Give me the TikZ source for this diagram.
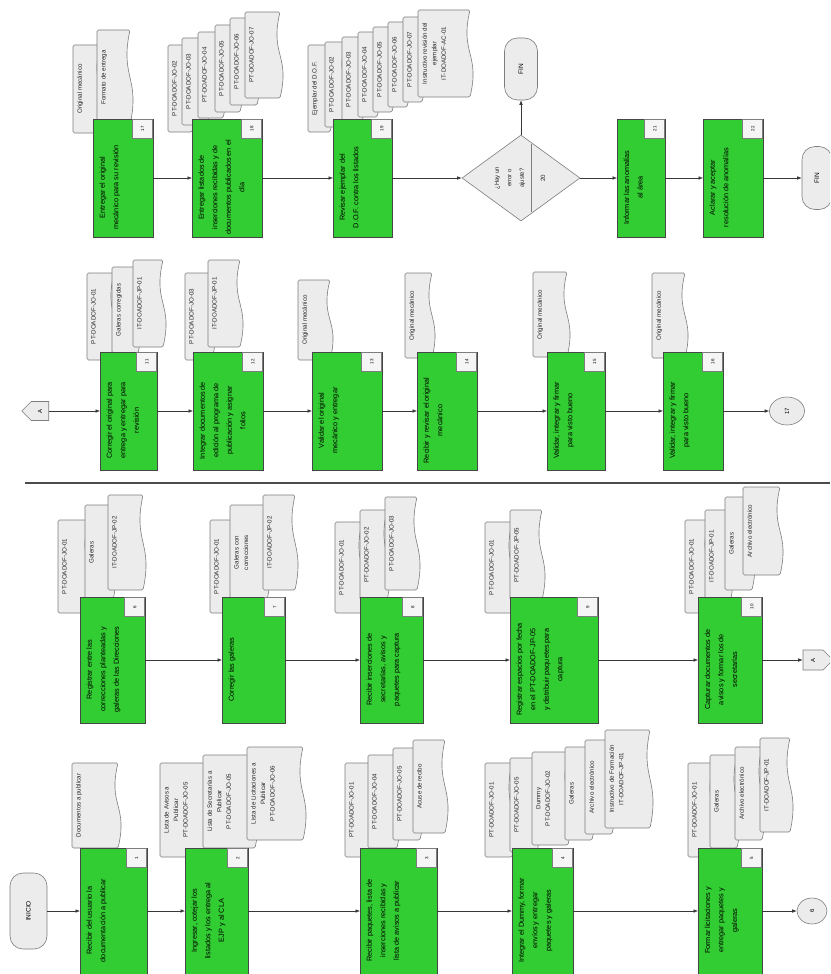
\documentclass[tikz,border=0pt]{standalone}
\usepackage{fontspec}
\setmainfont{Liberation Sans}
\usetikzlibrary{shapes.geometric,shapes.symbols,arrows.meta}
\definecolor{gfill}{RGB}{50,205,50}
\definecolor{gline}{RGB}{70,70,70}
\definecolor{dfill}{RGB}{236,236,236}
\definecolor{dline}{RGB}{125,125,125}
\definecolor{aline}{RGB}{55,55,55}
\tikzset{
  gbox/.style={draw=gline, fill=gfill, line width=0.8pt, inner sep=0pt, outer sep=0pt},
  tabbox/.style={draw=dline, fill=black!4, line width=0.6pt, minimum width=20, minimum height=19, inner sep=0pt, font=\fontsize{4.5}{5}\selectfont},
  gtext/.style={rotate=90, align=center, inner sep=1.5pt, font=\fontsize{7.3}{13.5}\selectfont, text=black},
  docpath/.style={draw=dline, fill=dfill, line width=0.6pt, rounded corners=1.5pt},
  doctext/.style={rotate=90, align=center, inner sep=1pt, font=\fontsize{6.2}{9.5}\selectfont, text=black!85},
  flow/.style={draw=aline, line width=0.6pt, -{Latex[length=4.5pt,width=3.6pt]}},
  term/.style={draw=dline, fill=dfill, line width=0.6pt, rounded corners=13pt, inner sep=0pt, font=\fontsize{6.5}{8}\selectfont},
  conn/.style={draw=dline, fill=dfill, line width=0.6pt, inner sep=0pt, font=\fontsize{6}{7}\selectfont},
}
\newcommand{\docu}[6]{%
  \path[docpath] (#2,#3) -- (#4,#3) .. controls ({#4-10},{(#3+#5)/2}) and ({#4+10},{(#3+#5)/2}) .. (#4,#5) -- (#2,#5) -- cycle;
  \node[doctext, anchor=north] (#1) at ({#2+3},{(#3+#5)/2}) {#6};
}
\newcommand{\stp}[7]{%
  \node[gbox, anchor=north west, minimum width={#4-#2}, minimum height={#5-#3}] (#1) at (#2,#3) {};
  \node[tabbox, anchor=north east] (#1n) at (#1.north east) {\rotatebox{90}{#6}};
  \node[gtext, anchor=north] (#1t) at ({#2+5},{(#3+#5+19)/2}) {#7};
}
\begin{document}
\begin{tikzpicture}[x=1pt, y=-1pt]
\useasboundingbox (0,0) rectangle (830,974);
\clip (0,0) rectangle (830,974);
\fill[white] (0,0) rectangle (830,974);

% ---------- documents row 4 ----------
\docu{d17a}{73}{45}{100}{133}{Original mecánico}
\docu{d17b}{97}{30}{130}{125}{Formato de entrega}
\docu{d18a}{168}{45}{192}{132}{PT-DOADOF-JO-02}
\docu{d18b}{182}{38}{207}{125}{PT-DOADOF-JO-03}
\docu{d18c}{198}{32}{223}{118}{PT-DOADOF-JO-04}
\docu{d18d}{215}{25}{240}{112}{PT-DOADOF-JO-05}
\docu{d18e}{230}{18}{257}{105}{PT-DOADOF-JO-06}
\docu{d18f}{245}{12}{280}{98}{PT-DOADOF-JO-07}
\docu{d19a}{308}{45}{330}{132}{Ejemplar del D.O.F.}
\docu{d19b}{325}{42}{345}{127}{PT-DOADOF-JO-02}
\docu{d19c}{342}{37}{362}{122}{PT-DOADOF-JO-03}
\docu{d19d}{358}{32}{377}{117}{PT-DOADOF-JO-04}
\docu{d19e}{373}{27}{392}{112}{PT-DOADOF-JO-05}
\docu{d19f}{388}{22}{407}{107}{PT-DOADOF-JO-06}
\docu{d19g}{403}{17}{422}{102}{PT-DOADOF-JO-07}
\docu{d19h}{418}{10}{470}{97}{Instructivo revisión del\\ejemplar\\IT-DOADOF-AC-01}
% ---------- documents row 3 ----------
\docu{d11a}{87}{273}{114}{360}{PT-DOADOF-JO-01}
\docu{d11b}{112}{267}{138}{353}{Galeras corregidas}
\docu{d11c}{133}{260}{163}{347}{IT-DOADOF-JP-01}
\docu{d12a}{185}{273}{212}{360}{PT-DOADOF-JO-03}
\docu{d12b}{208}{260}{240}{347}{IT-DOADOF-JP-01}
\docu{d13a}{298}{280}{330}{360}{Original mecánico}
\docu{d14a}{405}{273}{432}{358}{Original mecánico}
\docu{d15a}{533}{272}{567}{357}{Original mecánico}
\docu{d16a}{652}{273}{685}{358}{Original mecánico}
% ---------- documents row 2 ----------
\docu{d6a}{58}{520}{88}{613}{PT-DOADOF-JO-01}
\docu{d6b}{85}{505}{113}{600}{Galeras}
\docu{d6c}{108}{495}{143}{590}{IT-DOADOF-JP-02}
\docu{d7a}{210}{520}{235}{613}{PT-DOADOF-JO-01}
\docu{d7b}{230}{505}{267}{600}{Galeras con\\correcciones}
\docu{d7c}{263}{495}{295}{590}{IT-DOADOF-JP-02}
\docu{d8a}{335}{522}{362}{613}{PT-DOADOF-JO-01}
\docu{d8b}{360}{510}{387}{600}{PT-DOADOF-JO-02}
\docu{d8c}{385}{497}{417}{590}{PT-DOADOF-JO-03}
\docu{d9a}{485}{522}{512}{613}{PT-DOADOF-JO-01}
\docu{d9b}{510}{510}{542}{600}{PT-DOADOF-JP-05}
\docu{d10a}{685}{520}{708}{613}{PT-DOADOF-JO-01}
\docu{d10b}{705}{510}{730}{603}{IT-DOADOF-JP-01}
\docu{d10c}{725}{497}{752}{590}{Galeras}
\docu{d10d}{743}{487}{780}{575}{Archivo electrónico}
% ---------- documents row 1 ----------
\docu{d1a}{72}{763}{118}{848}{Documentos a publicar}
\docu{d2a}{160}{763}{207}{857}{Lista de Avisos a\\Publicar\\PT-DOADOF-JO-05}
\docu{d2b}{203}{755}{255}{848}{Lista de Secretarías a\\Publicar\\PT-DOADOF-JO-05}
\docu{d2c}{247}{747}{303}{840}{Lista de Licitaciones a\\Publicar\\PT-DOADOF-JO-06}
\docu{d3a}{345}{763}{372}{857}{PT-DOADOF-JO-01}
\docu{d3b}{368}{755}{397}{848}{PT-DOADOF-JO-04}
\docu{d3c}{393}{748}{420}{840}{PT-DOADOF-JO-05}
\docu{d3d}{413}{740}{445}{833}{Acuse de recibo}
\docu{d4a}{485}{763}{512}{857}{PT-DOADOF-JO-01}
\docu{d4b}{510}{758}{537}{852}{PT-DOADOF-JO-05}
\docu{d4c}{532}{752}{568}{845}{Dummy\\PT-DOADOF-JO-02}
\docu{d4d}{565}{747}{592}{840}{Galeras}
\docu{d4e}{585}{740}{612}{834}{Archivo electrónico}
\docu{d4f}{605}{730}{650}{828}{Instructivo de Formación\\IT-DOADOF-JP-01}
\docu{d5a}{688}{763}{713}{857}{PT-DOADOF-JO-01}
\docu{d5b}{710}{755}{737}{848}{Galeras}
\docu{d5c}{735}{747}{762}{840}{Archivo electrónico}
\docu{d5d}{760}{738}{790}{832}{IT-DOADOF-JP-01}

% ---------- steps row 1 ----------
\stp{s1}{80}{848}{147}{974}{1}{Recibir del usuario la\\documentación a publicar}
\stp{s2}{185}{848}{248}{974}{2}{Ingresar, cotejar los\\listados y los entrega al\\EJP y al CLA}
\stp{s3}{360}{848}{437}{974}{3}{Recibir paquetes, lista de\\inserciones recibidas y\\lista de avisos a publicar}
\stp{s4}{512}{848}{573}{974}{4}{Integrar el Dummy, formar\\envíos y entregar\\paquetes y galeras}
\stp{s5}{698}{848}{762}{974}{5}{Formar licitaciones y\\entregar paquetes y\\galeras}
% ---------- steps row 2 ----------
\stp{s6}{80}{597}{145}{723}{6}{Registrar entre las\\correcciones planteadas y\\galeras de las Direcciones}
\stp{s7}{222}{597}{285}{723}{7}{Corregir las galeras}
\stp{s8}{360}{597}{423}{723}{8}{Recibir inserciones de\\secretarías, avisos y\\paquetes para captura}
\stp{s9}{510}{597}{598}{723}{9}{Registrar espacios por fecha\\en el PT-DOADOF-JP-05\\y distribuir paquetes para\\captura}
\stp{s10}{698}{597}{762}{723}{10}{Capturar documentos de\\avisos y formar los de\\secretarías}
% ---------- steps row 3 ----------
\stp{s11}{100}{352}{157}{470}{11}{Corregir el original para\\entrega y entregar para\\revisión}
\stp{s12}{193}{352}{263}{470}{12}{Integrar documentos de\\edición al programa de\\publicación y asignar\\folios}
\stp{s13}{312}{352}{382}{470}{13}{Validar el original\\mecánico y entregar}
\stp{s14}{417}{352}{477}{470}{14}{Recibir y revisar el original\\mecánico}
\stp{s15}{547}{352}{605}{470}{15}{Validar, integrar y firmar\\para visto bueno}
\stp{s16}{663}{352}{723}{470}{16}{Validar, integrar y firmar\\para visto bueno}
% ---------- steps row 4 ----------
\stp{s17}{93}{119}{153}{237}{17}{Entregar el original\\mecánico para su revisión}
\stp{s18}{192}{119}{262}{237}{18}{Entregar listados de\\inserciones recibidas y de\\documentos publicados en el\\día}
\stp{s19}{333}{119}{392}{237}{19}{Revisar ejemplar del\\D.O.F. contra los listados}
\stp{s21}{617}{119}{665}{237}{21}{Informar las anomalías\\al área}
\stp{s22}{703}{119}{763}{237}{22}{Aclarar y aceptar\\resolución de anomalías}

% ---------- other shapes ----------
\node[term, minimum width=37, minimum height=76] (inicio) at (28.5,911) {\rotatebox{90}{INICIO}};
\node[conn, ellipse, minimum width=30, minimum height=26] (c6) at (812,911) {\rotatebox{90}{6}};
\node[conn, signal, signal to=east, minimum width=30, minimum height=20] (A1) at (813,660) {\rotatebox{90}{A}};
\node[conn, signal, signal to=west, minimum width=27, minimum height=19] (A2) at (40,411) {\rotatebox{90}{A}};
\node[conn, ellipse, minimum width=35, minimum height=28] (c17) at (787,411) {\rotatebox{90}{17}};
\node[conn, diamond, minimum width=118, minimum height=86] (d20) at (521,178) {};
\draw[draw=dline, line width=0.9pt] (531,144) -- (531,212);
\node[doctext, font=\fontsize{6}{12.5}\selectfont] (q20) at (510,178) {¿Hay un\\error o\\ajuste?};
\node[doctext] (n20) at (543,178) {20};
\node[term, minimum width=33, minimum height=62] (fin1) at (521,69) {\rotatebox{90}{FIN}};
\node[term, minimum width=30, minimum height=63] (fin2) at (817,178) {\rotatebox{90}{FIN}};

\draw[line width=1.1pt, draw=black!70] (25,483) -- (830,483);

% ---------- connectors ----------
\draw[flow] (inicio.east) -- (s1.west);
\draw[flow] (s1.east) -- (s2.west);
\draw[flow] (s2.east) -- (s3.west);
\draw[flow] (s3.east) -- (s4.west);
\draw[flow] (s4.east) -- (s5.west);
\draw[flow] (s5.east) -- (c6.west);
\draw[flow] (s6.east) -- (s7.west);
\draw[flow] (s7.east) -- (s8.west);
\draw[flow] (s8.east) -- (s9.west);
\draw[flow] (s9.east) -- (s10.west);
\draw[flow] (s10.east) -- (A1.west);
\draw[flow] (A2.east) -- (s11.west);
\draw[flow] (s11.east) -- (s12.west);
\draw[flow] (s12.east) -- (s13.west);
\draw[flow] (s13.east) -- (s14.west);
\draw[flow] (s14.east) -- (s15.west);
\draw[flow] (s15.east) -- (s16.west);
\draw[flow] (s16.east) -- (c17.west);
\draw[flow] (s17.east) -- (s18.west);
\draw[flow] (s18.east) -- (s19.west);
\draw[flow] (s19.east) -- (d20.west);
\draw[flow] (d20.east) -- (s21.west);
\draw[flow] (s21.east) -- (s22.west);
\draw[flow] (s22.east) -- (fin2.west);
\draw[flow] (d20.north) -- (fin1.south);
\end{tikzpicture}
\end{document}
